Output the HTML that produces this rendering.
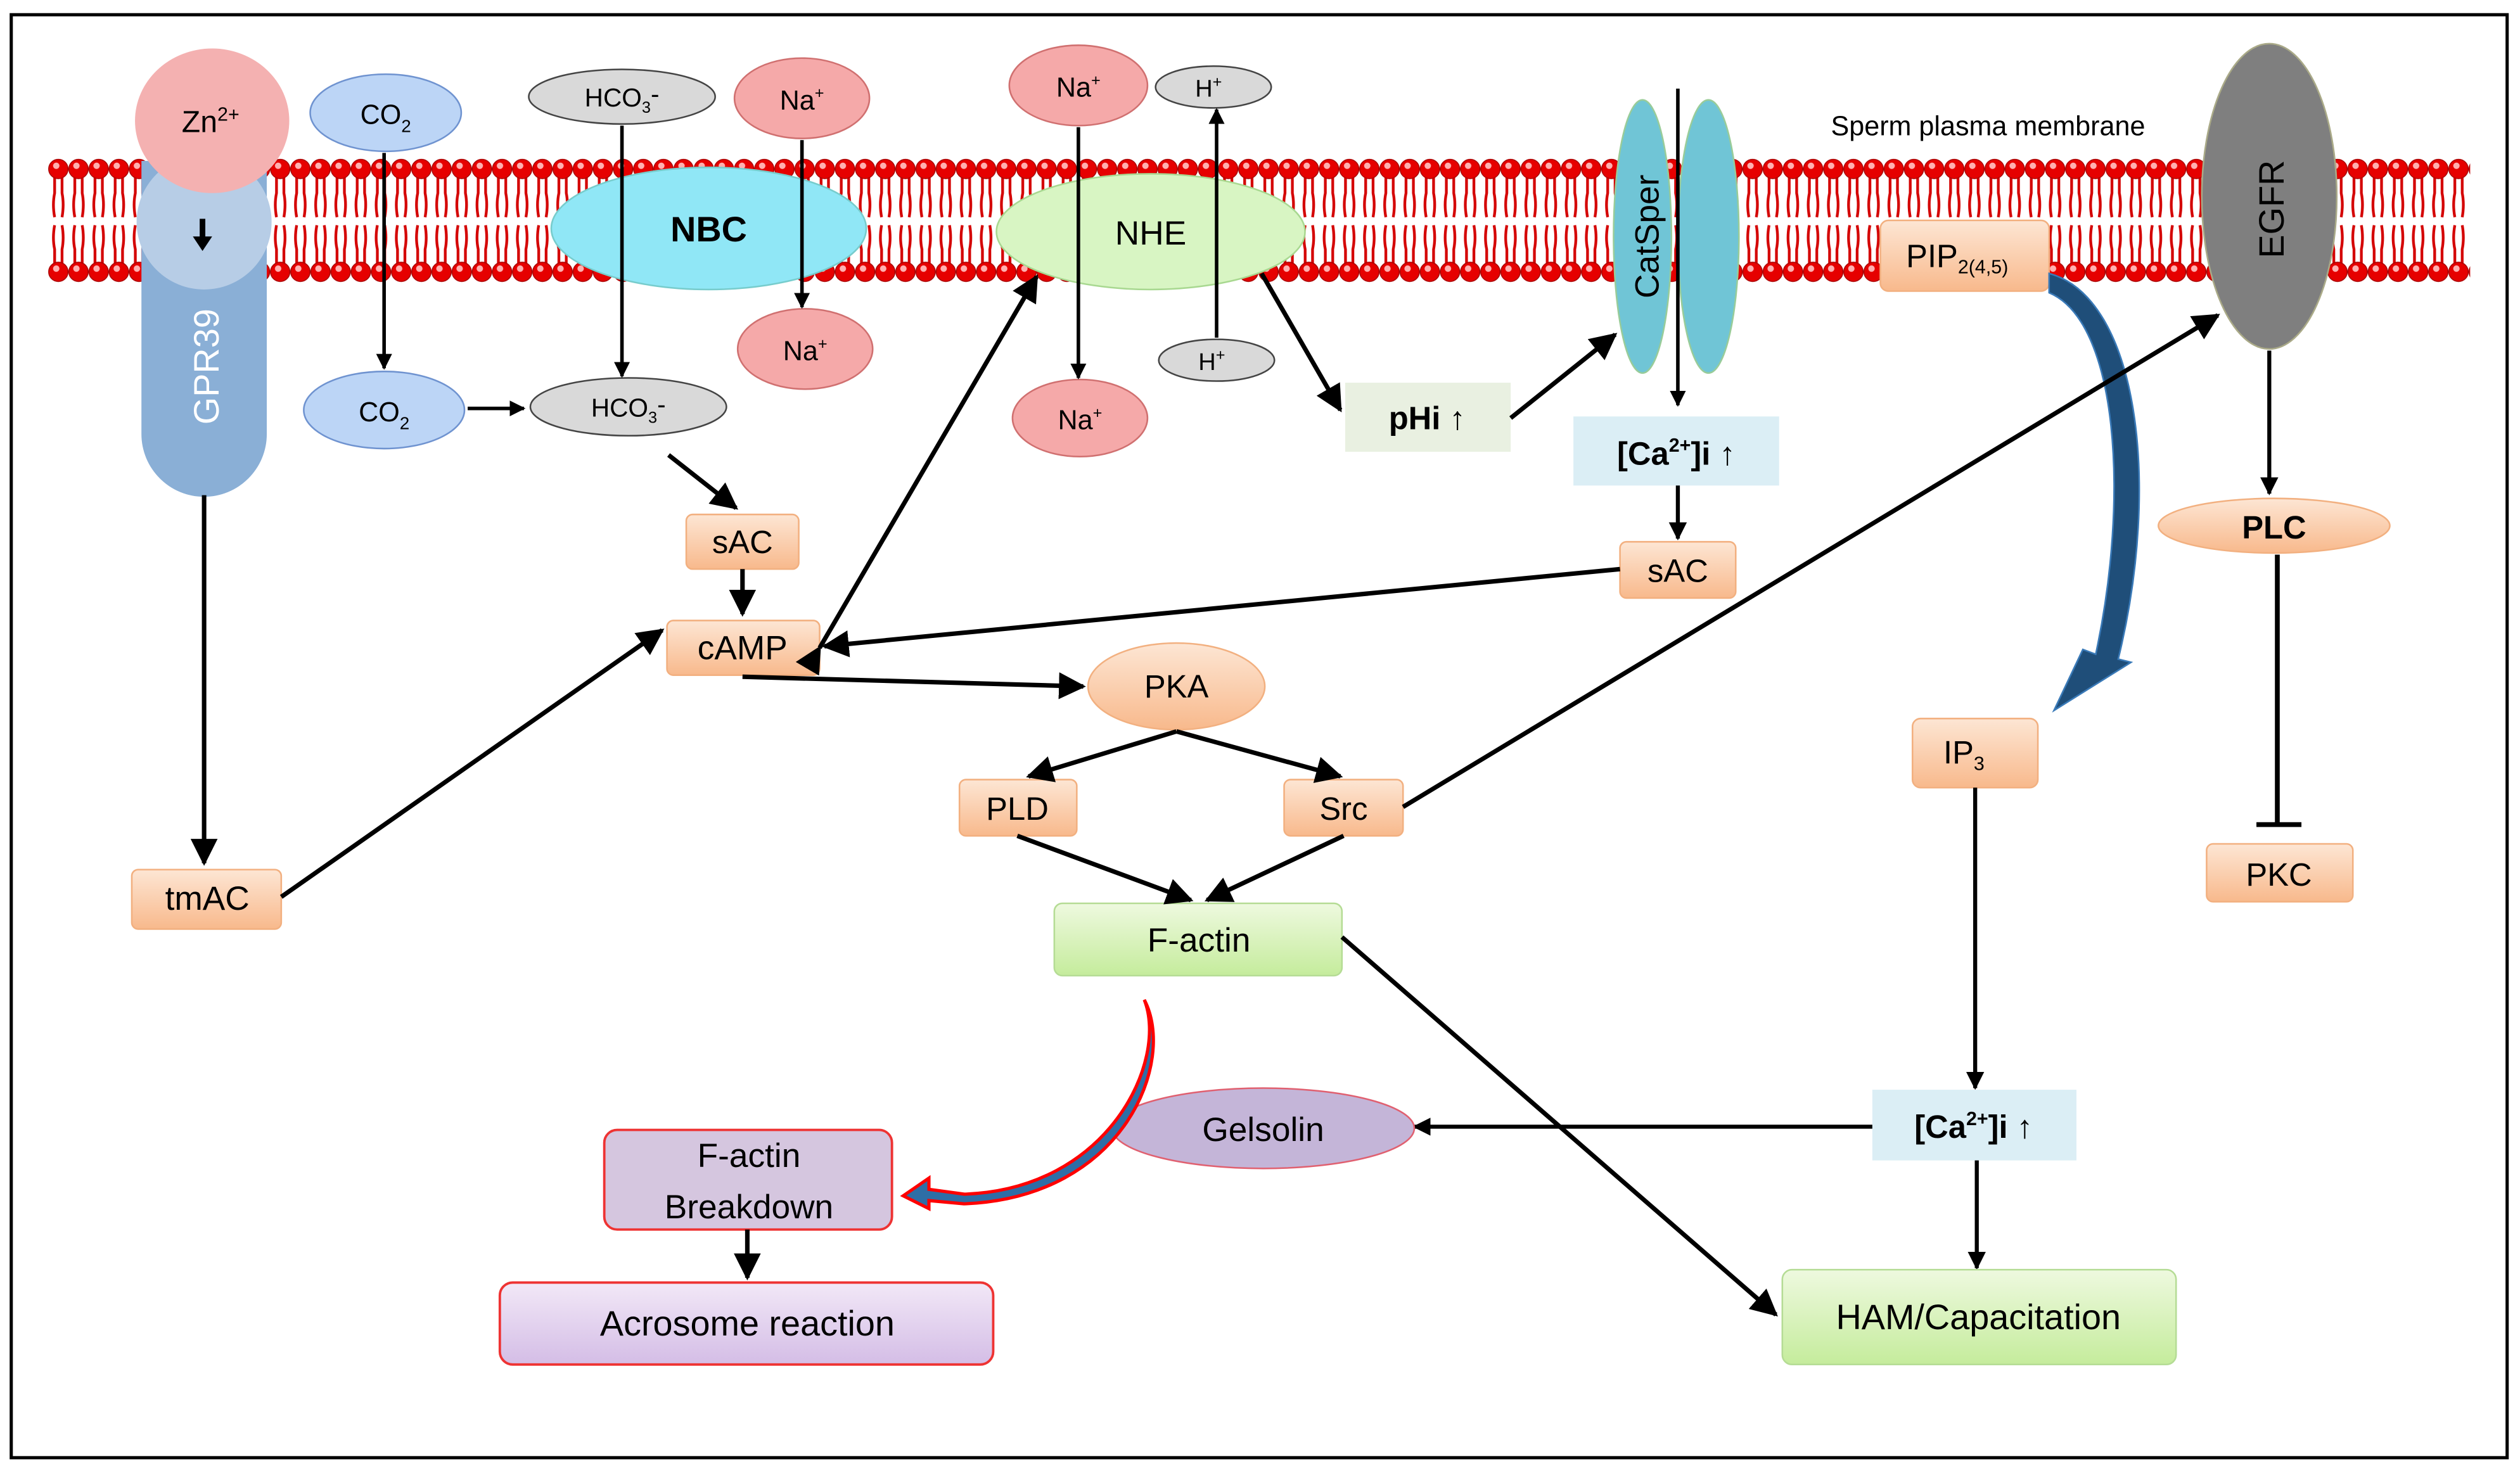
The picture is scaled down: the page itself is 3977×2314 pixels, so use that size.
<!DOCTYPE html>
<html><head><meta charset="utf-8"><style>html,body{margin:0;padding:0;background:#fff}svg{display:block}</style></head>
<body>
<svg width="3977" height="2314" viewBox="0 0 1568 912" xmlns="http://www.w3.org/2000/svg" font-family="'Liberation Sans', sans-serif">
<defs>
<pattern id="lip" x="30" y="0" width="12.55" height="912" patternUnits="userSpaceOnUse">
<g stroke="#d40000" stroke-width="1.7" fill="none">
<path d="M4 110 L4 120 Q2.5 127 4 135 M8.6 110 L8.6 120 Q10 127 8.6 135"/>
<path d="M4 140 Q2.5 148 4 155 L4 164 M8.6 140 Q10 148 8.6 155 L8.6 164"/>
</g>
<circle cx="6.3" cy="105" r="6" fill="#e60000" stroke="#a00" stroke-width="0.6"/>
<circle cx="6.3" cy="169" r="6" fill="#e60000" stroke="#a00" stroke-width="0.6"/>
<circle cx="5" cy="103" r="2" fill="#ffb0b0"/>
<circle cx="5" cy="167" r="2" fill="#ffb0b0"/>
</pattern>
<linearGradient id="or" x1="0" y1="0" x2="0" y2="1"><stop offset="0" stop-color="#fde6d4"/><stop offset="1" stop-color="#f8b98c"/></linearGradient>
<linearGradient id="gr" x1="0" y1="0" x2="0" y2="1"><stop offset="0" stop-color="#eef9df"/><stop offset="1" stop-color="#c5ec9c"/></linearGradient>
<linearGradient id="pu" x1="0" y1="0" x2="0" y2="1"><stop offset="0" stop-color="#f2e8f7"/><stop offset="1" stop-color="#d4bde6"/></linearGradient>
<marker id="a" viewBox="0 0 10 10" refX="9" refY="5" markerWidth="4.5" markerHeight="4.5" orient="auto-start-reverse"><path d="M0 0L10 5L0 10z" fill="#000"/></marker>
<marker id="b" viewBox="0 0 10 10" refX="9" refY="5" markerWidth="6" markerHeight="6" orient="auto"><path d="M0 0L10 5L0 10z" fill="#000"/></marker>
</defs>
<rect x="7" y="9" width="1553" height="898" fill="#fff" stroke="#000" stroke-width="2"/>
<rect x="30" y="97" width="1507" height="80" fill="url(#lip)"/>

<path d="M88 100 H166 V270 A39 39 0 0 1 88 270 Z" fill="#8aafd6"/>
<ellipse cx="127" cy="138" rx="42" ry="42" fill="#b7cde6"/>
<ellipse cx="132" cy="75" rx="48" ry="45" fill="#f4b1b1"/>
<text x="131" y="82" font-size="19" text-anchor="middle">Zn<tspan font-size="12" dy="-7">2+</tspan></text>
<path d="M126 136 V148" stroke="#000" stroke-width="3.5"/><path d="M120 147 L126 156 L132 147z"/>
<text transform="translate(136,228) rotate(-90)" font-size="22" fill="#fff" text-anchor="middle">GPR39</text>

<ellipse cx="240" cy="70" rx="47" ry="24" fill="#bcd5f6" stroke="#6f93d0"/>
<text x="240" y="77" font-size="17" text-anchor="middle">CO<tspan font-size="11" dy="5">2</tspan></text>
<ellipse cx="387" cy="60" rx="58" ry="17" fill="#d9d9d9" stroke="#444"/>
<text x="387" y="66" font-size="16" text-anchor="middle">HCO<tspan font-size="10" dy="4">3</tspan><tspan dy="-6">-</tspan></text>
<ellipse cx="499" cy="61" rx="42" ry="25" fill="#f5a9a9" stroke="#d07070"/>
<text x="499" y="68" font-size="17" text-anchor="middle">Na<tspan font-size="10" dy="-7">+</tspan></text>
<ellipse cx="441" cy="142" rx="98" ry="38" fill="#90e7f6" stroke="#7cc"/>
<text x="441" y="150" font-size="22" font-weight="bold" text-anchor="middle">NBC</text>
<ellipse cx="501" cy="217" rx="42" ry="25" fill="#f5a9a9" stroke="#d07070"/>
<text x="501" y="224" font-size="17" text-anchor="middle">Na<tspan font-size="10" dy="-7">+</tspan></text>
<ellipse cx="239" cy="255" rx="50" ry="24" fill="#bcd5f6" stroke="#6f93d0"/>
<text x="239" y="262" font-size="17" text-anchor="middle">CO<tspan font-size="11" dy="5">2</tspan></text>
<ellipse cx="391" cy="253" rx="61" ry="18" fill="#d9d9d9" stroke="#444"/>
<text x="391" y="259" font-size="16" text-anchor="middle">HCO<tspan font-size="10" dy="4">3</tspan><tspan dy="-6">-</tspan></text>
<g stroke="#000" stroke-width="2.2" fill="none" marker-end="url(#a)">
<path d="M239 95 V229"/><path d="M387 78 V234"/><path d="M499 87 V191"/><path d="M291 254 H326"/>
</g>

<ellipse cx="671" cy="53" rx="43" ry="25" fill="#f5a9a9" stroke="#d07070"/>
<text x="671" y="60" font-size="17" text-anchor="middle">Na<tspan font-size="10" dy="-7">+</tspan></text>
<ellipse cx="755" cy="54" rx="36" ry="13" fill="#d9d9d9" stroke="#444"/>
<text x="752" y="60" font-size="15" text-anchor="middle">H<tspan font-size="10" dy="-6">+</tspan></text>
<ellipse cx="716" cy="144" rx="96" ry="36" fill="#d8f5c3" stroke="#a8d890"/>
<text x="716" y="152" font-size="21" text-anchor="middle">NHE</text>
<ellipse cx="757" cy="224" rx="36" ry="13" fill="#d9d9d9" stroke="#444"/>
<text x="754" y="230" font-size="15" text-anchor="middle">H<tspan font-size="10" dy="-6">+</tspan></text>
<ellipse cx="672" cy="260" rx="42" ry="24" fill="#f5a9a9" stroke="#d07070"/>
<text x="672" y="267" font-size="17" text-anchor="middle">Na<tspan font-size="10" dy="-7">+</tspan></text>
<g stroke="#000" stroke-width="2.2" fill="none" marker-end="url(#a)">
<path d="M671 79 V235"/><path d="M757 210 V68"/>
</g>
<rect x="837" y="238" width="103" height="43" fill="#e9f0e1"/>
<text x="888" y="267" font-size="20" font-weight="bold" text-anchor="middle">pHi ↑</text>

<ellipse cx="1022" cy="147" rx="18" ry="85" fill="#70c5d6" stroke="#9c9"/>
<ellipse cx="1063" cy="147" rx="19" ry="85" fill="#70c5d6" stroke="#9c9"/>
<text transform="translate(1032,147) rotate(-90)" font-size="21" text-anchor="middle">CatSper</text>
<path d="M1044 55 V252" stroke="#000" stroke-width="2.2" marker-end="url(#a)"/>
<rect x="979" y="259" width="128" height="43" fill="#dbeef5"/>
<text x="1043" y="289" font-size="20" font-weight="bold" text-anchor="middle">[Ca<tspan font-size="12" dy="-8">2+</tspan><tspan dy="8">]i ↑</tspan></text>
<text x="1237" y="84" font-size="17" text-anchor="middle">Sperm plasma membrane</text>

<ellipse cx="1412" cy="122" rx="42" ry="95" fill="#7f7f7f" stroke="#aa8"/>
<text transform="translate(1421,130) rotate(-90)" font-size="22" text-anchor="middle">EGFR</text>
<rect x="1170" y="137" width="105" height="44" rx="5" fill="url(#or)" stroke="#f2b080"/>
<text x="1186" y="166" font-size="20">PIP<tspan font-size="12" dy="4">2(4,5)</tspan></text>
<path d="M1275 170 C1330 185 1345 300 1318 410 L1326 412 L1278 442 L1296 404 L1304 407 C1325 310 1318 200 1275 182 Z" fill="#1f4e79" stroke="#3a7ab8" stroke-width="1"/>
<ellipse cx="1415" cy="327" rx="72" ry="17" fill="url(#or)" stroke="#f2b080"/>
<text x="1415" y="335" font-size="20" font-weight="bold" text-anchor="middle">PLC</text>
<path d="M1412 218 V307" stroke="#000" stroke-width="2.5" marker-end="url(#a)"/>
<path d="M1417 345 V513 M1404 513 H1432" stroke="#000" stroke-width="3"/>
<rect x="1373" y="525" width="91" height="36" rx="4" fill="url(#or)" stroke="#f2b080"/>
<text x="1418" y="551" font-size="20" text-anchor="middle">PKC</text>
<rect x="1190" y="447" width="78" height="43" rx="5" fill="url(#or)" stroke="#f2b080"/>
<text x="1222" y="475" font-size="20" text-anchor="middle">IP<tspan font-size="12" dy="4">3</tspan></text>
<path d="M1229 490 V677" stroke="#000" stroke-width="2.5" marker-end="url(#a)"/>
<rect x="1165" y="678" width="127" height="44" fill="#dbeef5"/>
<text x="1228" y="708" font-size="20" font-weight="bold" text-anchor="middle">[Ca<tspan font-size="12" dy="-8">2+</tspan><tspan dy="8">]i ↑</tspan></text>
<path d="M1230 722 V789" stroke="#000" stroke-width="2.5" marker-end="url(#a)"/>
<rect x="1109" y="790" width="245" height="59" rx="6" fill="url(#gr)" stroke="#b5dc95"/>
<text x="1231" y="827" font-size="22" text-anchor="middle">HAM/Capacitation</text>
<path d="M1165 701 H880" stroke="#000" stroke-width="2.5" marker-end="url(#a)"/>
<ellipse cx="786" cy="702" rx="94" ry="25" fill="#c4b5d8" stroke="#e06070"/>
<text x="786" y="710" font-size="21" text-anchor="middle">Gelsolin</text>

<rect x="1008" y="337" width="72" height="35" rx="4" fill="url(#or)" stroke="#f2b080"/>
<text x="1044" y="362" font-size="20" text-anchor="middle">sAC</text>
<path d="M1044 302 V335" stroke="#000" stroke-width="2.5" marker-end="url(#a)"/>
<rect x="427" y="320" width="70" height="34" rx="4" fill="url(#or)" stroke="#f2b080"/>
<text x="462" y="344" font-size="20" text-anchor="middle">sAC</text>
<rect x="415" y="386" width="95" height="34" rx="4" fill="url(#or)" stroke="#f2b080"/>
<text x="462" y="410" font-size="21" text-anchor="middle">cAMP</text>
<rect x="82" y="541" width="93" height="37" rx="4" fill="url(#or)" stroke="#f2b080"/>
<text x="129" y="566" font-size="21" text-anchor="middle">tmAC</text>
<ellipse cx="732" cy="427" rx="55" ry="27" fill="url(#or)" stroke="#f2b080"/>
<text x="732" y="434" font-size="20" text-anchor="middle">PKA</text>
<rect x="597" y="485" width="73" height="35" rx="4" fill="url(#or)" stroke="#f2b080"/>
<text x="633" y="510" font-size="20" text-anchor="middle">PLD</text>
<rect x="799" y="485" width="74" height="35" rx="4" fill="url(#or)" stroke="#f2b080"/>
<text x="836" y="510" font-size="20" text-anchor="middle">Src</text>
<rect x="656" y="562" width="179" height="45" rx="5" fill="url(#gr)" stroke="#b5dc95"/>
<text x="746" y="592" font-size="21" text-anchor="middle">F-actin</text>
<rect x="376" y="703" width="179" height="62" rx="8" fill="#d5c6df" stroke="#e33" stroke-width="1.5"/>
<text x="466" y="726" font-size="21" text-anchor="middle">F-actin</text>
<text x="466" y="758" font-size="21" text-anchor="middle">Breakdown</text>
<rect x="311" y="798" width="307" height="51" rx="8" fill="url(#pu)" stroke="#e33" stroke-width="1.5"/>
<text x="465" y="831" font-size="22" text-anchor="middle">Acrosome reaction</text>
<path d="M712 622 C727 660 690 740 600 743 L578 740 L578 733 L562 744 L578 752 L578 747 L600 749 C700 745 732 660 712 622 Z" fill="#2e6ea6" stroke="#f00" stroke-width="2"/>

<g stroke="#000" stroke-width="2.8" fill="none" marker-end="url(#b)">
<path d="M416 283 L458 316"/><path d="M462 354 V382"/>
<path d="M175 558 L412 392"/>
<path d="M510 403 L645 172" marker-start="url(#b)"/>
<path d="M1008 354 L513 402"/>
<path d="M462 421 L674 427"/>
<path d="M785 170 L834 255"/><path d="M940 260 L1005 208"/>
<path d="M873 502 L1380 196"/>
<path d="M732 455 L640 483"/><path d="M732 455 L834 483"/>
<path d="M633 520 L741 560"/><path d="M836 520 L751 560"/>
<path d="M835 583 L1105 818"/>
<path d="M465 765 V795"/>
<path d="M127 308 V537"/>
</g>
</svg>
</body></html>
